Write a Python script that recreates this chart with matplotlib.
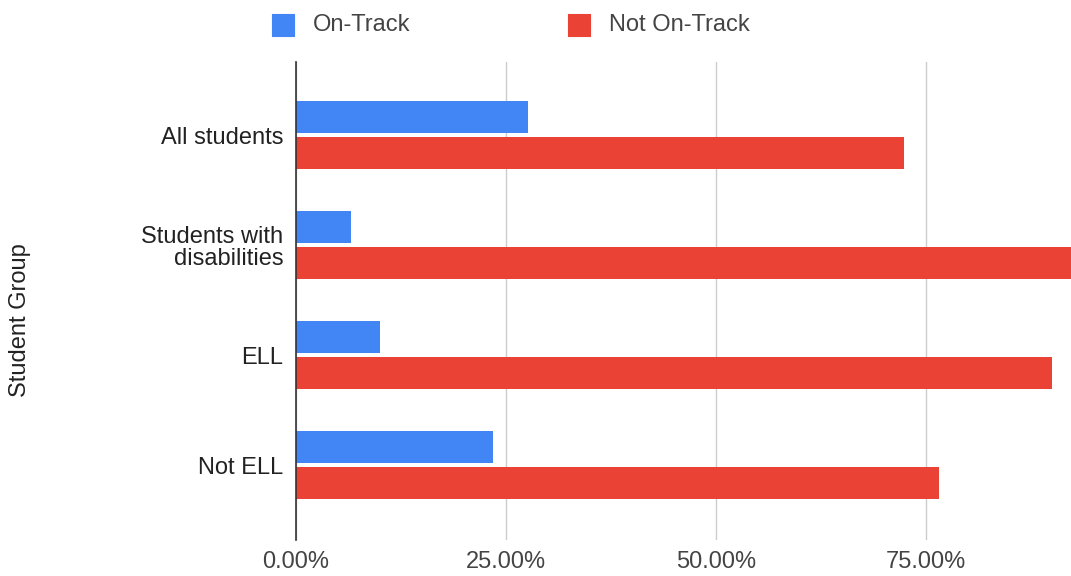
import matplotlib
matplotlib.use("Agg")
import matplotlib.pyplot as plt
from matplotlib.ticker import FuncFormatter
from matplotlib.patches import Rectangle
import numpy as np

categories = ["All students", "Students with\ndisabilities", "ELL", "Not ELL"]
on_track = [0.276, 0.065, 0.100, 0.234]
not_on_track = [0.724, 0.935, 0.900, 0.766]
series_names = ["On-Track", "Not On-Track"]
colors = ["#4285F4", "#EA4335"]
xticks = [0.0, 0.25, 0.50, 0.75]

plt.rcParams['font.family'] = ['Liberation Sans', 'DejaVu Sans']
FS = 17

fig = plt.figure(figsize=(10.71, 5.76), dpi=100)
ax = fig.add_axes([296/1071, 1 - 540/576, 1 - 296/1071, (540-62)/576])

y = np.arange(len(categories))
h = 0.287
off = 0.164
ax.barh(y - off, on_track, height=h, color=colors[0], zorder=3, label=series_names[0])
ax.barh(y + off, not_on_track, height=h, color=colors[1], zorder=3, label=series_names[1])

ax.set_xlim(0, 0.9226)
ax.set_ylim(3.68, -0.664)
ax.set_yticks(y)
ax.set_yticklabels(categories, fontsize=FS, color="#222222", linespacing=1.02)
ax.set_xticks(xticks)
ax.xaxis.set_major_formatter(FuncFormatter(lambda v, p: f"{v*100:.2f}%"))
ax.tick_params(axis='x', labelsize=FS, labelcolor="#444444", length=0, pad=8)
ax.tick_params(axis='y', length=0, pad=9)
ax.grid(axis='x', color="#cccccc", linewidth=1, zorder=0)
for s in ["top", "right", "bottom"]:
    ax.spines[s].set_visible(False)
ax.spines["left"].set_color("#333333")
ax.spines["left"].set_linewidth(1.2)
ax.spines["left"].set_zorder(4)

fig.text(20/1071, 1 - 320/576, "Student Group", rotation=90, ha="center", va="center",
         fontsize=FS, color="#222222")

# legend (manual placement)
W, H = 1071, 576
legend_x = [272, 568]
for name, col, lx in zip(series_names, colors, legend_x):
    fig.patches.append(Rectangle((lx/W, 1 - 36/H), 22/W, 22/H, transform=fig.transFigure,
                                 facecolor=col, edgecolor=col, linewidth=0.8,
                                 joinstyle='round'))
    fig.text((lx + 41)/W, 1 - 25/H, name, ha="left", va="center", fontsize=FS,
             color="#444444")

fig.savefig("out.png", dpi=100)
